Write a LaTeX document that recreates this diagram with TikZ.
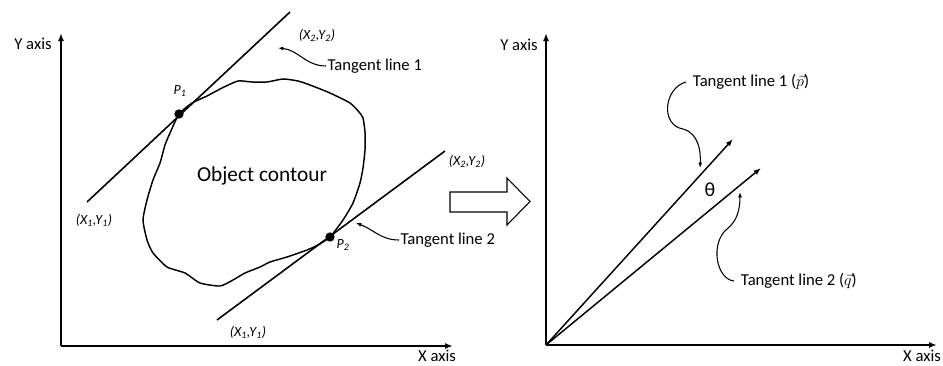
\documentclass[tikz,border=0pt]{standalone}
\usepackage{fontspec}
\setmainfont{Carlito}
\usepackage{tikz}
\usetikzlibrary{
  arrows.meta,
  positioning
}
\definecolor{inkcolor}{RGB}{0, 0, 0}
\definecolor{papercolor}{RGB}{255, 255, 255}
\tikzset{
axisline/.style={
  -{Latex[length=6pt,width=4.5pt]},
  line width=1.4pt,
  draw=inkcolor
},
tangentline/.style={
  line width=1.2pt,
  draw=inkcolor
},
contourline/.style={
  line width=1.1pt,
  draw=inkcolor,
  line join=round
},
vectorline/.style={
  -{Latex[length=5.5pt,width=4pt]},
  line width=1.1pt,
  draw=inkcolor
},
callout/.style={
  -{Latex[length=4pt,width=3pt]},
  line width=0.8pt,
  draw=inkcolor
},
bigarrow/.style={
  draw=inkcolor,
  fill=papercolor,
  line width=0.8pt
},
pointdot/.style={
  circle,
  fill=inkcolor,
  inner sep=0pt,
  minimum size=7pt
},
axislabel/.style={
  font=\fontsize{12.5}{14}\selectfont,
  text=inkcolor,
  inner sep=0.5pt
},
calloutlabel/.style={
  font=\fontsize{12.5}{14}\selectfont,
  text=inkcolor,
  inner sep=1pt,
  anchor=west
},
contourlabel/.style={
  font=\fontsize{16}{19}\selectfont,
  text=inkcolor
},
coordlabel/.style={
  font=\fontsize{10.5}{12}\selectfont\itshape,
  text=inkcolor,
  inner sep=1pt
},
anglelabel/.style={
  font=\fontsize{15}{18}\selectfont,
  text=inkcolor
}
}

\begin{document}
\begin{tikzpicture}[x=0.75pt, y=-0.75pt]
  \useasboundingbox (0,0) rectangle (943,365);

  % left: contour, tangents at P1 and P2
  \coordinate (oL) at (61,346);
  \coordinate (yL) at (61,33);
  \coordinate (xL) at (453,346);
  \draw[axisline] (oL) -- (yL);
  \draw[axisline] (oL) -- (xL);
  \node[axislabel] (ylabL) at (33,44) {Y axis};
  \node[axislabel] (xlabL) at (437,356) {X axis};

  \draw[contourline] plot[smooth cycle, tension=0.35] coordinates {
    (179,114) (192,103) (207,96) (222,88) (238,81) (252,82) (267,82)
    (283,79) (298,81) (310,85) (330,93) (350,103) (359,112) (363,118)
    (365,132) (365,150) (363,168) (360,183) (353,203) (343,220) (330,237)
    (318,245) (307,250) (287,257) (270,262) (260,267) (245,273) (233,280)
    (220,286) (200,283) (185,273) (167,267) (153,253) (147,240) (143,220)
    (147,200) (153,180) (160,163) (165,145) (170,133)
  };
  \node[contourlabel] (obj) at (262,176) {Object contour};

  \coordinate (t1a) at (87,202);
  \coordinate (t1b) at (290,12);
  \coordinate (t2a) at (217,320);
  \coordinate (t2b) at (445,151);
  \draw[tangentline] (t1a) -- (t1b);
  \draw[tangentline] (t2a) -- (t2b);

  \node[pointdot] (p1) at (179,114) {};
  \node[pointdot] (p2) at (330,237) {};
  \node[coordlabel] (p1lab) at (180,91) {P\textsubscript{1}};
  \node[coordlabel] (p2lab) at (343,245) {P\textsubscript{2}};

  \node[coordlabel] (t1alab) at (94,220) {(X\textsubscript{1},Y\textsubscript{1})};
  \node[coordlabel] (t1blab) at (317,35) {(X\textsubscript{2},Y\textsubscript{2})};
  \node[coordlabel] (t2alab) at (248,332) {(X\textsubscript{1},Y\textsubscript{1})};
  \node[coordlabel] (t2blab) at (467,161) {(X\textsubscript{2},Y\textsubscript{2})};

  \node[calloutlabel] (tl1) at (326,66) {Tangent line 1};
  \coordinate (tl1tip) at (278,48);
  \draw[callout] (tl1.west) to[out=180,in=-5] (tl1tip);

  \node[calloutlabel] (tl2) at (399,240) {Tangent line 2};
  \coordinate (tl2tip) at (356,223);
  \draw[callout] (tl2.west) to[out=180,in=-20] (tl2tip);

  % big hollow arrow
  \draw[bigarrow] (450,192) -- (507,192) -- (507,178) -- (530,201.5)
    -- (507,225) -- (507,212) -- (450,212) -- cycle;

  % right: the two tangent vectors from the origin
  \coordinate (oR) at (546,345);
  \coordinate (yR) at (546,33);
  \coordinate (xR) at (937,345);
  \draw[axisline] (oR) -- (yR);
  \draw[axisline] (oR) -- (xR);
  \node[axislabel] (ylabR) at (519,45) {Y axis};
  \node[axislabel] (xlabR) at (922,356) {X axis};

  \coordinate (ptip) at (733,139);
  \coordinate (qtip) at (761,168);
  \draw[vectorline] (oR) -- (ptip);
  \draw[vectorline] (oR) -- (qtip);
  \node[anglelabel] (theta) at (710,190) {θ};

  \node[calloutlabel, inner sep=5pt] (vp) at (686,82) {Tangent line 1 ($\vec{p}$)};
  \coordinate (vpbend) at (683,129);
  \coordinate (vptip) at (700,168);
  \draw[callout] (vp.west) .. controls (664,88) and (660,125) .. (vpbend)
    .. controls (698,133) and (701,150) .. (vptip);

  \node[calloutlabel, inner sep=5pt] (vq) at (734,281) {Tangent line 2 ($\vec{q}$)};
  \coordinate (vqbend) at (727,229);
  \coordinate (vqtip) at (740,192);
  \draw[callout] (vq.west) .. controls (716,279) and (710,243) .. (vqbend)
    .. controls (737,221) and (740,210) .. (vqtip);
\end{tikzpicture}
\end{document}
